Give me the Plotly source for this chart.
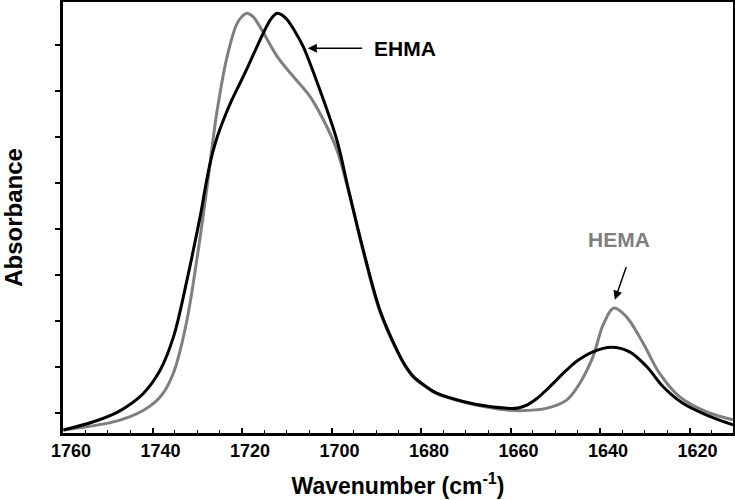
import plotly.graph_objects as go

# EHMA (black) spectrum
ehma_wn = [1759.9, 1753.2, 1748.0, 1745.7, 1742.0, 1738.3, 1735.3, 1732.3, 1730.1, 1729.1,
           1728.2, 1727.3, 1726.4, 1725.3, 1724.2, 1722.3, 1720.4, 1718.5, 1716.4, 1714.1,
           1713.1, 1712.2, 1711.2, 1710.0, 1708.2, 1706.3, 1702.6, 1698.8, 1696.2, 1692.9,
           1689.2, 1685.4, 1683.6, 1681.7, 1679.1, 1676.5, 1670.6, 1665.4, 1660.2, 1658.3,
           1656.4, 1654.2, 1652.0, 1647.5, 1645.3, 1641.6, 1637.5, 1633.4, 1629.6, 1625.9,
           1621.5, 1616.3, 1610.3]
ehma_abs = [-0.037, -0.019, 0.001, 0.014, 0.043, 0.093, 0.166, 0.289, 0.391, 0.440,
            0.490, 0.535, 0.572, 0.607, 0.636, 0.680, 0.718, 0.757, 0.802, 0.848,
            0.862, 0.869, 0.866, 0.856, 0.830, 0.796, 0.702, 0.593, 0.485, 0.354,
            0.224, 0.137, 0.104, 0.079, 0.059, 0.043, 0.025, 0.015, 0.010, 0.011,
            0.017, 0.031, 0.050, 0.093, 0.112, 0.133, 0.143, 0.133, 0.101, 0.057,
            0.021, -0.004, -0.026]

# HEMA (gray) spectrum
hema_wn = [1759.9, 1749.4, 1745.0, 1742.0, 1739.5, 1737.5, 1735.8, 1734.6, 1732.3, 1730.1,
           1727.9, 1726.4, 1725.6, 1723.4, 1721.2, 1720.0, 1718.9, 1717.6, 1716.0, 1712.2,
           1708.5, 1704.8, 1701.8, 1698.8, 1696.0, 1692.9, 1689.2, 1685.4, 1683.6, 1681.7,
           1679.1, 1676.5, 1670.6, 1665.4, 1660.2, 1657.9, 1652.0, 1647.5, 1644.7, 1641.6,
           1639.3, 1636.9, 1634.1, 1630.4, 1626.7, 1622.2, 1616.3, 1610.3]
hema_abs = [-0.037, -0.021, -0.008, 0.006, 0.023, 0.045, 0.076, 0.108, 0.202, 0.333,
            0.485, 0.600, 0.655, 0.772, 0.845, 0.862, 0.869, 0.862, 0.840, 0.776,
            0.731, 0.688, 0.637, 0.572, 0.475, 0.350, 0.220, 0.135, 0.103, 0.078,
            0.058, 0.042, 0.024, 0.013, 0.006, 0.005, 0.010, 0.028, 0.062, 0.122,
            0.192, 0.228, 0.209, 0.152, 0.086, 0.035, 0.003, -0.015]

x_ticks = [1760, 1740, 1720, 1700, 1680, 1660, 1640, 1620]

BLACK = "#000000"
GRAY = "#7f7f7f"
FONT = "Liberation Sans, Arial, sans-serif"

fig = go.Figure()
fig.add_trace(go.Scatter(x=hema_wn, y=hema_abs, mode="lines", name="HEMA",
                         line=dict(color=GRAY, width=3, shape="spline", smoothing=1.0)))
fig.add_trace(go.Scatter(x=ehma_wn, y=ehma_abs, mode="lines", name="EHMA",
                         line=dict(color=BLACK, width=3, shape="spline", smoothing=1.0)))

# EHMA arrow + label
fig.add_annotation(x=1705.3, y=0.793, ax=1692.5, ay=0.793, xref="x", yref="y",
                   axref="x", ayref="y", text=" ", showarrow=True,
                   arrowhead=2, arrowsize=1.2, arrowwidth=1.5, arrowcolor=BLACK)
fig.add_annotation(x=1683.6, y=0.793, xref="x", yref="y", text="<b>EHMA</b>",
                   showarrow=False, font=dict(family=FONT, size=21, color=BLACK))
# HEMA arrow + label
fig.add_annotation(x=1636.7, y=0.246, ax=1633.5, ay=0.336, xref="x", yref="y",
                   axref="x", ayref="y", text=" ", showarrow=True,
                   arrowhead=2, arrowsize=1.2, arrowwidth=1.5, arrowcolor=BLACK)
fig.add_annotation(x=1635.7, y=0.378, xref="x", yref="y", text="<b>HEMA</b>",
                   showarrow=False, font=dict(family=FONT, size=21, color=GRAY))

fig.update_layout(
    width=735, height=500, autosize=False,
    margin=dict(l=63, r=2, t=2, b=67),
    paper_bgcolor="white", plot_bgcolor="white",
    showlegend=False,
    font=dict(family=FONT, color=BLACK),
)
fig.update_xaxes(
    range=[1760, 1610.3],
    tickvals=x_ticks,
    ticks="inside", ticklen=5, tickwidth=1.5, tickcolor=BLACK,
    ticklabelshift=-8,
    minor=dict(dtick=5, tick0=1760, ticks="inside", ticklen=3, tickwidth=1.2, tickcolor=BLACK),
    showline=True, linewidth=2.5, linecolor=BLACK, mirror=True,
    showgrid=False, zeroline=False, automargin=False,
    tickfont=dict(family=FONT, size=18, color=BLACK, weight="bold"),
    title=dict(text="<b>Wavenumber (cm<sup>-1</sup>)</b>", standoff=18,
               font=dict(family=FONT, size=23, color=BLACK)),
)
fig.update_yaxes(
    range=[-0.0435, 0.8935],
    tick0=0, dtick=0.1,
    ticks="outside", ticklen=5, tickwidth=1.5, tickcolor=BLACK,
    showticklabels=False,
    showline=True, linewidth=2.5, linecolor=BLACK, mirror=True,
    showgrid=False, zeroline=False, automargin=False,
    title=dict(text="<b>Absorbance</b>", standoff=30,
               font=dict(family=FONT, size=24, color=BLACK)),
)

post = ("document.body.style.margin='0';document.body.style.padding='0';"
        "document.body.style.overflow='hidden';"
        "Plotly.relayout(document.getElementById('{plot_id}'), {width: 735, height: 500});")

fig.write_html("out.html", post_script=post,
               config={"responsive": False, "displayModeBar": False})
